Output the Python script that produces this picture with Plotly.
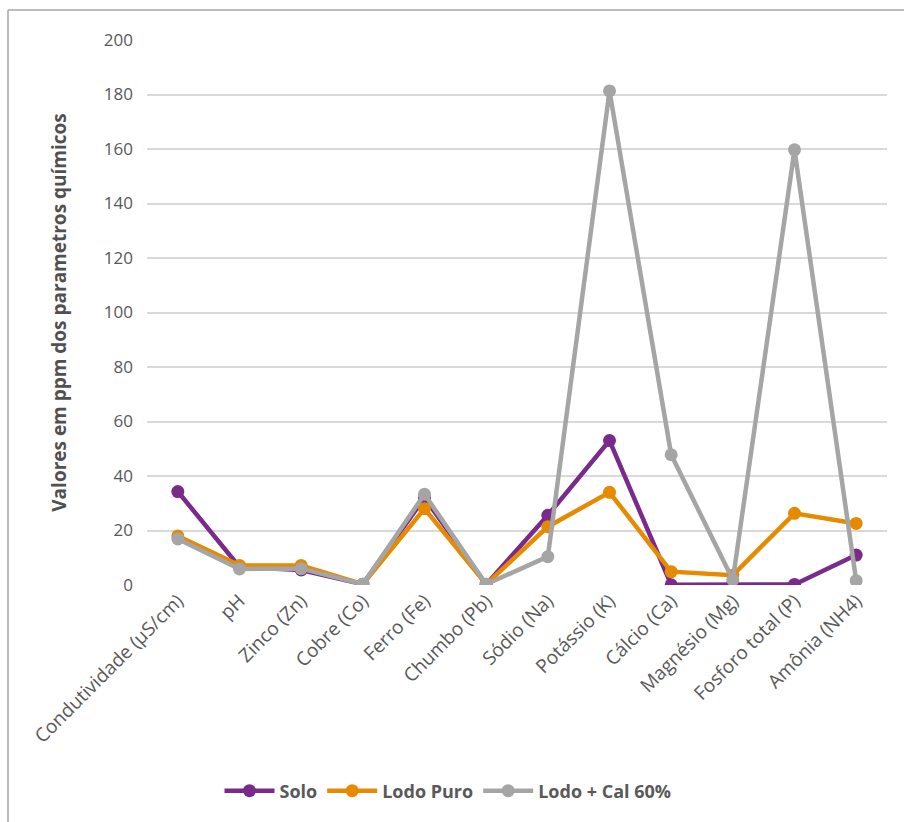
import plotly.graph_objects as go

# Parâmetros químicos analisados
parametros = [
    "Condutividade (µS/cm)", "pH", "Zinco (Zn)", "Cobre (Co)", "Ferro (Fe)",
    "Chumbo (Pb)", "Sódio (Na)", "Potássio (K)", "Cálcio (Ca)",
    "Magnésio (Mg)", "Fosforo total (P)", "Amônia (NH4)",
]

# Valores medidos (ppm) por tratamento
solo = [34.3, 6.6, 5.5, 0.3, 32.0, 0.2, 25.6, 53.0, 0.1, 0.3, 0.2, 11.0]
lodo_puro = [18.0, 7.2, 7.2, 0.3, 28.0, 0.3, 21.4, 34.0, 4.9, 3.6, 26.3, 22.6]
lodo_cal = [16.9, 5.9, 6.0, 0.3, 33.3, 0.3, 10.4, 181.3, 47.8, 1.9, 159.7, 1.6]

y_ticks = [0, 20, 40, 60, 80, 100, 120, 140, 160, 180, 200]

series = [
    ("Solo", solo, "#7A2A8A"),
    ("Lodo Puro", lodo_puro, "#E68A00"),
    ("Lodo + Cal 60%", lodo_cal, "#A5A5A5"),
]

fig = go.Figure()
for nome, valores, cor in series:
    fig.add_trace(go.Scatter(
        x=parametros, y=valores, name=nome, mode="lines+markers",
        line=dict(color=cor, width=4.5),
        marker=dict(color=cor, size=13),
    ))

FONT = "Open Sans"
L, R, T, B = 147, 17, 40, 237
W, H = 904, 822
pw, ph = W - L - R, H - T - B
fx = (8 - L) / pw
fy = (H - B - 10) / ph

fig.update_layout(
    width=W, height=H,
    margin=dict(l=L, r=R, t=T, b=B),
    paper_bgcolor="white", plot_bgcolor="white",
    font=dict(family=FONT, color="#595959"),
    showlegend=True,
    legend=dict(
        orientation="h", x=(448 - L) / pw, xanchor="center",
        y=-(791 - (H - B)) / ph, yanchor="middle",
        font=dict(family=FONT, size=18, color="#595959", weight="bold"),
        itemwidth=50, traceorder="normal",
    ),
    xaxis=dict(
        type="category", range=[-0.5, len(parametros) - 0.5],
        tickangle=-45, showgrid=False, showline=False, zeroline=False,
        ticks="", tickfont=dict(family=FONT, size=19, color="#595959"),
    ),
    yaxis=dict(
        range=[0, 200], tickvals=y_ticks, showgrid=True,
        gridcolor="#D9D9D9", gridwidth=1.5, zeroline=False, showline=False,
        ticks="", ticklabelstandoff=13,
        tickfont=dict(family=FONT, size=17, color="#595959"),
        title=dict(
            text="Valores em ppm dos parametros químicos",
            font=dict(family=FONT, size=19, color="#505050", weight="bold"),
            standoff=32,
        ),
    ),
    shapes=[
        dict(type="line", xref="paper", yref="paper", x0=fx, x1=fx,
             y0=-1, y1=fy, line=dict(color="#A6A6A6", width=1.5)),
        dict(type="line", xref="paper", yref="paper", x0=fx, x1=1.5,
             y0=fy, y1=fy, line=dict(color="#A6A6A6", width=1.5)),
    ],
)

fig.write_html("out.html")
